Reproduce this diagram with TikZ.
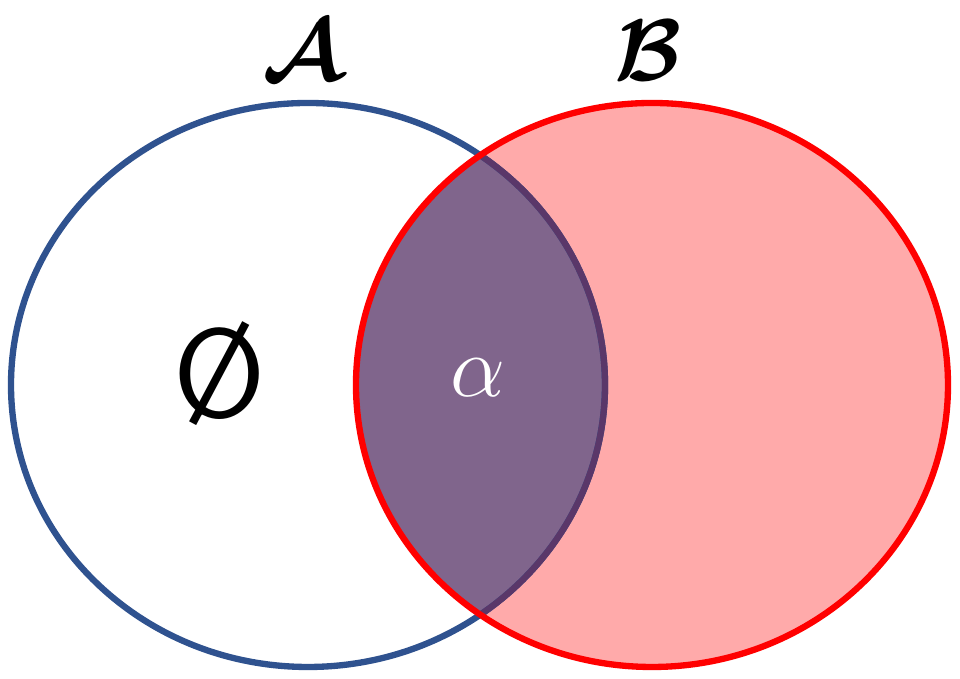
\documentclass[tikz,border=0pt]{standalone}
\usepackage{amssymb}
\usepackage{bm}
\definecolor{setblue}{RGB}{47,82,143}
\definecolor{setred}{RGB}{255,0,0}
\definecolor{setpink}{RGB}{255,170,170}
\definecolor{setpurple}{RGB}{128,101,140}
\definecolor{setrim}{RGB}{90,55,105}
\tikzset{
  rim/.style={line width=1.8pt},
  setlabel/.style={font=\fontsize{24}{28}\selectfont}
}
\begin{document}
\begin{tikzpicture}
\useasboundingbox (0,0) rectangle (9.6,6.79);
%\draw[step=0.5cm,gray,very thin] (0,0) grid (9.6,6.79); %background grid

\fill[setpink] (6.52,2.94) ellipse [x radius=2.96, y radius=2.82];
\begin{scope}
  \clip (3.08,2.94) ellipse [x radius=2.97, y radius=2.82];
  \fill[setpurple] (6.52,2.94) ellipse [x radius=2.96, y radius=2.82];
\end{scope}

\draw[rim,setblue] (3.08,2.94) ellipse [x radius=2.97, y radius=2.82];
\begin{scope}
  \clip (6.52,2.94) ellipse [x radius=2.96, y radius=2.82];
  \draw[rim,setrim] (3.08,2.94) ellipse [x radius=2.97, y radius=2.82];
\end{scope}
\draw[rim,setred] (6.52,2.94) ellipse [x radius=2.96, y radius=2.82];

\node[setlabel] (labA) at (3.03,6.28) {$\bm{\mathcal{A}}$};
\node[setlabel] (labB) at (6.48,6.28) {$\bm{\mathcal{B}}$};
\node[font=\sffamily\fontsize{36}{40}\selectfont] (empty) at (2.20,3.05) {\O};
\node[text=white,font=\fontsize{30}{34}\selectfont] (alpha) at (4.78,3.01) {$\alpha$};

\end{tikzpicture}
\end{document}
